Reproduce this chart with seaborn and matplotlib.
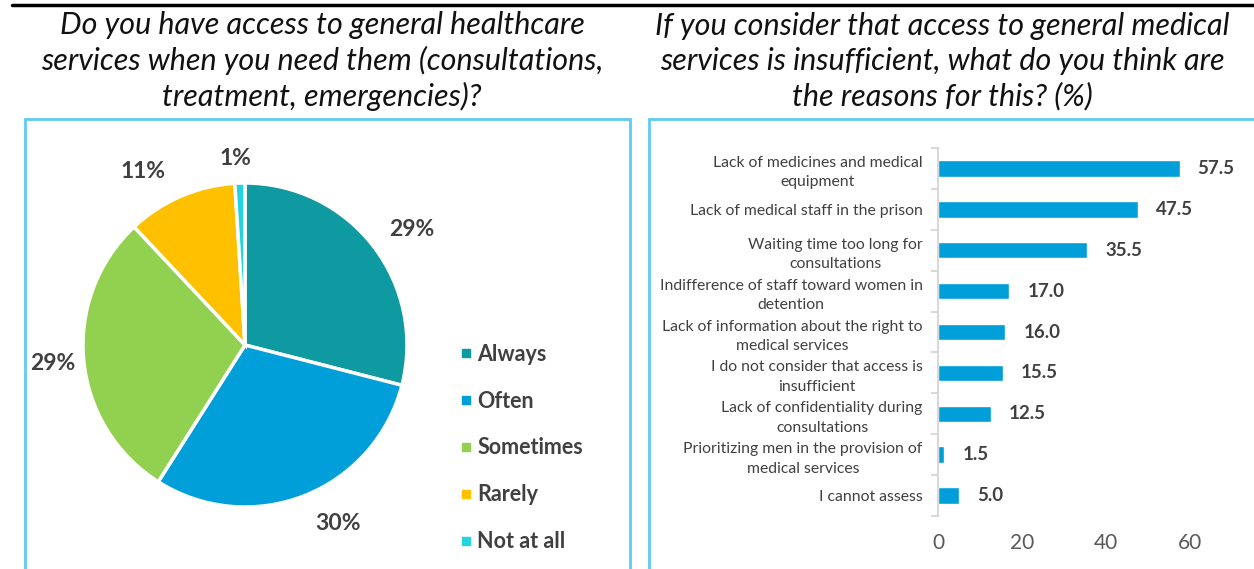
import matplotlib
matplotlib.use("Agg")
import matplotlib.pyplot as plt
import numpy as np
import pandas as pd
import seaborn as sns
from matplotlib.patches import Rectangle
from matplotlib.lines import Line2D

# Question 1: access to general healthcare services
access_levels = ["Always", "Often", "Sometimes", "Rarely", "Not at all"]
access_shares = [29, 30, 29, 11, 1]
access_colors = ["#0e9aa0", "#009fda", "#92d050", "#ffc000", "#22d3e0"]

# Question 2: reasons for insufficient access (%)
reasons = [
    "Lack of medicines and medical\nequipment",
    "Lack of medical staff in the prison",
    "Waiting time too long for\nconsultations",
    "Indifference of staff toward women in\ndetention",
    "Lack of information about the right to\nmedical services",
    "I do not consider that access is\ninsufficient",
    "Lack of confidentiality during\nconsultations",
    "Prioritizing men in the provision of\nmedical services",
    "I cannot assess",
]
reason_pct = [57.5, 47.5, 35.5, 17.0, 16.0, 15.5, 12.5, 1.5, 5.0]
x_ticks = [0, 20, 40, 60]

title_left = ("Do you have access to general healthcare\n"
              "services when you need them (consultations,\n"
              "treatment, emergencies)?")
title_right = ("If you consider that access to general medical\n"
               "services is insufficient, what do you think are\n"
               "the reasons for this? (%)")

sns.set_theme(style="white")
plt.rcParams["font.family"] = ["Lato", "DejaVu Sans"]

W, H = 1254, 569
fig = plt.figure(figsize=(W / 100, H / 100), dpi=100)


def fx(px):
    return px / W


def fy(py):
    return 1 - py / H


# header rule
fig.add_artist(Line2D([fx(12), 1.0], [fy(5), fy(5)], color="black", lw=2.5,
                      transform=fig.transFigure))

# panel frames
frame_col = "#5fcaf3"
fig.add_artist(Rectangle((fx(25), fy(580)), (630 - 25) / W, (580 - 119) / H,
                         transform=fig.transFigure, fill=False,
                         edgecolor=frame_col, lw=2))
fig.add_artist(Rectangle((fx(649), fy(580)), (1270 - 649) / W, (580 - 119) / H,
                         transform=fig.transFigure, fill=False,
                         edgecolor=frame_col, lw=2))

# titles
for cx, txt in [(322, title_left), (942, title_right)]:
    fig.text(fx(cx), fy(61), txt, ha="center", va="center", style="italic",
             fontsize=22, linespacing=1.3, color="#111111")

# ---- pie chart ----
R = 162
ax_pie = fig.add_axes([fx(245 - R), fy(345 + R), 2 * R / W, 2 * R / H])
wedges, _, pct_texts = ax_pie.pie(
    access_shares, colors=access_colors, startangle=90, counterclock=False,
    wedgeprops=dict(edgecolor="white", linewidth=2.5),
    autopct=lambda p: f"{p:.0f}%", pctdistance=1.23,
    textprops=dict(fontsize=16.5, fontweight="bold", color="#404040"),
)
# per-slice label placement (distance, angle shift in degrees)
label_place = [(1.25, -3), (1.24, 6), (1.19, 0), (1.24, 7), (1.15, 1)]
for w, t, (dist, shift) in zip(wedges, pct_texts, label_place):
    ang = np.deg2rad((w.theta1 + w.theta2) / 2 + shift)
    t.set_position((dist * np.cos(ang), dist * np.sin(ang)))
ax_pie.set_xlim(-1, 1)
ax_pie.set_ylim(-1, 1)

handles = [Line2D([], [], marker="s", ls="", color=c, markersize=6)
           for c in access_colors]
fig.legend(handles, access_levels, loc="center left",
           bbox_to_anchor=(fx(461), fy(448)), frameon=False,
           prop=dict(size=15.5, weight="bold"), labelcolor="#404040",
           labelspacing=1.2, handlelength=0.5, handletextpad=0.25,
           borderaxespad=0, borderpad=0)

# ---- bar chart ----
ax_bar = fig.add_axes([fx(938), fy(516), 294 / W, 368 / H])
df = pd.DataFrame({"reason": reasons, "pct": reason_pct})
sns.barplot(data=df, y="reason", x="pct", orient="h", color="#009fda",
            saturation=1, width=0.4, ax=ax_bar)
ax_bar.set_xlim(0, 70)
ax_bar.set_ylim(8.5, -0.5)
ax_bar.set_xlabel("")
ax_bar.set_ylabel("")
ax_bar.set_xticks(x_ticks)
ax_bar.set_xticklabels([str(t) for t in x_ticks])
for s in ["top", "right", "bottom"]:
    ax_bar.spines[s].set_visible(False)
ax_bar.spines["left"].set_color("#d9d9d9")
ax_bar.spines["left"].set_linewidth(1.5)
ax_bar.set_yticks(np.arange(-0.5, 9, 1), minor=True)
ax_bar.tick_params(axis="y", which="minor", length=5, width=1.5,
                   color="#d9d9d9", left=True)
ax_bar.tick_params(axis="y", which="major", length=0, pad=11,
                   labelsize=11.3, labelcolor="#404040")
ax_bar.tick_params(axis="x", length=0, pad=12, labelsize=15,
                   labelcolor="#595959")
for lab in ax_bar.get_yticklabels():
    lab.set_multialignment("center")
    lab.set_linespacing(1.5)

for i, v in enumerate(reason_pct):
    ax_bar.annotate(f"{v:.1f}", xy=(v, i), xytext=(13, 0),
                    textcoords="offset points", ha="left", va="center",
                    fontsize=13.5, fontweight="bold", color="#404040",
                    annotation_clip=False)

fig.savefig("out.png", dpi=100)
